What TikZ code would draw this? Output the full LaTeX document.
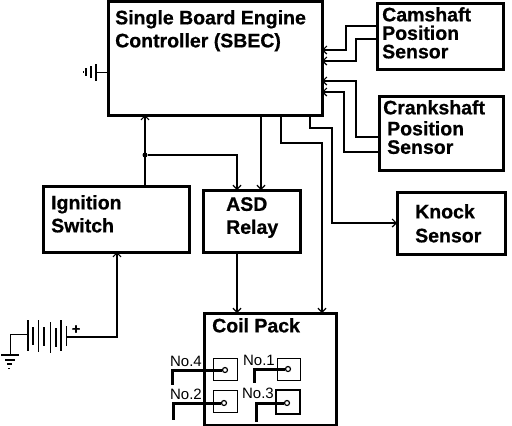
\documentclass[tikz,border=0pt]{standalone}
\usepackage{fontspec}
\setmainfont{Liberation Sans}
\newfontfamily\heavyfont[FakeBold=0.7]{Liberation Sans Bold}
\usetikzlibrary{positioning,arrows.meta}
\tikzset{
  >={Straight Barb[length=4pt,width=8pt,line width=1.2pt]},
  blk/.style={draw=black,fill=white,line width=3pt,inner sep=0pt,outer sep=0pt,anchor=north west},
  coilbox/.style={draw=black,line width=1pt,inner sep=0pt,outer sep=0pt,anchor=north west,minimum width=24pt,minimum height=22pt},
  txt/.style={font=\fontsize{19.5}{23}\selectfont\heavyfont,align=left,inner sep=0pt,anchor=north west},
  notxt/.style={font=\fontsize{15}{15}\selectfont,inner sep=0pt},
  term/.style={circle,draw=black,fill=white,line width=1.2pt,inner sep=0pt,minimum size=5pt},
  flow/.style={->,draw=black,line width=1.3pt},
  wire/.style={draw=black,line width=1pt},
  tflow/.style={->,draw=black,line width=2.2pt},
  lead/.style={draw=black,line width=3pt},
}
\begin{document}
\begin{tikzpicture}[x=1pt,y=-1pt]
  \useasboundingbox (0,0) rectangle (512,426);
  \node[blk,minimum width=214pt,minimum height=114pt] (sbec) at (108,1) {};
  \node[blk,minimum width=126pt,minimum height=66pt] (cam) at (377,3) {};
  \node[blk,minimum width=124pt,minimum height=74pt] (crank) at (379,96) {};
  \node[blk,minimum width=146pt,minimum height=66pt] (ign) at (43,186) {};
  \node[blk,minimum width=97pt,minimum height=62pt] (asd) at (203,190) {};
  \node[blk,minimum width=108pt,minimum height=62pt] (knock) at (397,192) {};
  \node[blk,minimum width=132pt,minimum height=112pt] (coil) at (204,313) {};
  % box texts
  \node[txt] (sbectxt) at (115,10) {Single Board Engine\\Controller (SBEC)};
  \node[txt] (camtxt) at (382,7) {Camshaft\\[-4.5pt]Position\\[-4.5pt]Sensor};
  \node[txt] (cranktxt) at (383,100) {Crankshaft};
  \node[txt] (postxt) at (387,121) {Position\\[-4.5pt]Sensor};
  \node[txt] (igntxt) at (51,195) {Ignition\\Switch};
  \node[txt] (asdtxt) at (226,197) {ASD\\Relay};
  \node[txt] (knocktxt) at (415,204) {Knock\\[1pt]Sensor};
  \node[txt] (coiltxt) at (212,318) {Coil Pack};
  % sensors into the controller
  \coordinate (c1) at (sbec.east |- 0,50);
  \coordinate (c2) at (sbec.east |- 0,61);
  \coordinate (c3) at (sbec.east |- 0,81);
  \coordinate (c4) at (sbec.east |- 0,92);
  \draw[flow] (cam.west |- 0,26) -- (346,26) -- (346,50) -- (c1);
  \draw[flow] (cam.west |- 0,39) -- (356,39) -- (356,61) -- (c2);
  \draw[flow] (crank.west |- 0,137) -- (356,137) -- (356,81) -- (c3);
  \draw[flow] (crank.west |- 0,152) -- (344,152) -- (344,92) -- (c4);
  % below the controller
  \coordinate (ignout) at (145,186);
  \coordinate (ignin) at (145,115);
  \node[circle,fill=black,inner sep=0pt,minimum size=5pt] (jct) at (145,155) {};
  \draw[tflow] (ignout) -- (ignin);
  \draw[flow] (jct) -| (asd.north -| 237,0);
  \draw[flow] (261,115) -- (asd.north -| 261,0);
  \draw[tflow] (281,115) -- (281,143) -- (322,143) -- (coil.north -| 322,0);
  \draw[flow] (310,115) -- (310,128) -- (332,128) -- (332,223) -- (knock.west |- 0,223);
  \draw[tflow] (asd.south -| 237,0) -- (coil.north -| 237,0);
  % battery
  \coordinate (batplus) at (66,337);
  \coordinate (batminus) at (28,334);
  \draw[tflow] (batplus) -| (ign.south -| 117,0);
  \draw[wire] (batminus) -- (10,334) -- (10,355);
  \foreach \xx/\ya/\yb/\lw in {28/320/351/2,33/327/345/2,38/320/352/1,44/327/346/2,50/322/353/1,56/328/347/2,61/320/351/2,66/326/346/1}
    \draw[line width=\lw pt] (\xx,\ya) -- (\xx,\yb);
  \node[font=\heavyfont\fontsize{14}{14}\selectfont,inner sep=0pt] (plus) at (76,329.5) {+};
  \foreach \xa/\xb/\yy/\lw in {1/19/355/2,5/15/360/1.5,7/12/364/1.2,8/10/368/1}
    \draw[line width=\lw pt] (\xa,\yy) -- (\xb,\yy);
  % controller ground
  \draw[wire] (96,72) -- (sbec.west |- 0,72);
  \foreach \xx/\ya/\yb/\lw in {96/64/81/2,91/66/78/2,86/68/76/1.3,83/71/73/1}
    \draw[line width=\lw pt] (\xx,\ya) -- (\xx,\yb);
  % coils
  \node[coilbox] (no4box) at (213,358) {};
  \node[coilbox,minimum width=23pt] (no1box) at (277,358) {};
  \node[coilbox] (no2box) at (213,390) {};
  \node[coilbox,line width=1.6pt,minimum height=24pt] (no3box) at (276,390) {};
  \node[term] (no4t) at (225,370) {};
  \node[term] (no1t) at (288,369) {};
  \node[term] (no2t) at (224,403) {};
  \node[term] (no3t) at (287,403) {};
  \coordinate (no4end) at (172,385);
  \coordinate (no1end) at (254,383);
  \coordinate (no2end) at (173,420);
  \coordinate (no3end) at (256,422);
  \draw[lead] (no4t) -| (no4end);
  \draw[lead] (no1t) -| (no1end);
  \draw[lead] (no2t) -| (no2end);
  \draw[lead] (no3t) -| (no3end);
  \node[notxt] (no4) at (186,361) {No.4};
  \node[notxt] (no1) at (259,360) {No.1};
  \node[notxt] (no2) at (186,394) {No.2};
  \node[notxt] (no3) at (258,393) {No.3};
\end{tikzpicture}
\end{document}
